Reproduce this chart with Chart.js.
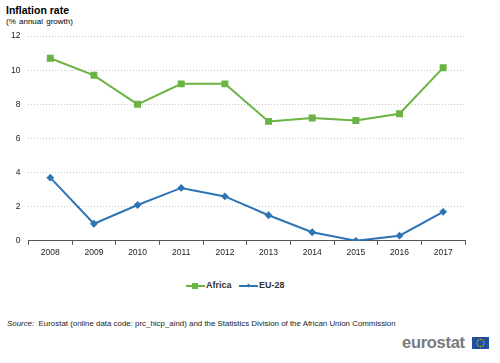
<!DOCTYPE html>
<html>
<head>
<meta charset="utf-8">
<script src="https://cdn.jsdelivr.net/npm/chart.js@4/dist/chart.umd.min.js"></script>
<style>
  body { margin: 0; background: #fff; font-family: "Liberation Sans", Arial, sans-serif; }
  #wrap { position: relative; width: 500px; height: 363px; overflow: hidden; }
  #title { position: absolute; left: 6px; top: 4px; font-size: 10.5px; font-weight: bold; color: #000; }
  #subtitle { position: absolute; left: 6px; top: 17px; font-size: 8px; color: #000; word-spacing: 1px; }
  #chartBox { position: absolute; left: 0; top: 23px; width: 500px; height: 238px; }
  #legend { position: absolute; left: 186px; top: 280px; white-space: nowrap; font-size: 9px; font-weight: bold; color: #333; }
  .item { display: inline-block; margin-right: 5px; }
  .sw { display: inline-block; position: relative; width: 19px; height: 8px; vertical-align: middle; margin-right: 1px; }
  .sw .ln { position: absolute; left: 0; right: 0; top: 3px; height: 2px; }
  .sw .mk { position: absolute; }
  #source { position: absolute; left: 7px; top: 319px; font-size: 7.9px; color: #222; }
  #logoTxt { position: absolute; left: 402px; top: 333px; font-size: 16.5px; font-weight: bold; color: #7a7a7a; letter-spacing: -0.3px; }
  #flag { position: absolute; left: 472px; top: 337px; }
</style>
</head>
<body>
<div id="wrap">
  <div id="title">Inflation rate</div>
  <div id="subtitle">(% annual growth)</div>
  <div id="chartBox"><canvas id="inflationChart"></canvas></div>
  <div id="legend">
    <span class="item"><span class="sw"><span class="ln" style="background:#6ab344"></span><span class="mk" style="left:6px;top:1px;width:6px;height:6px;background:#6ab344"></span></span>Africa</span>
    <span class="item"><span class="sw"><span class="ln" style="background:#2f74b5"></span><span class="mk" style="left:8px;top:2px;width:3px;height:3px;background:#2f74b5;transform:rotate(45deg)"></span></span>EU-28</span>
  </div>
  <div id="source"><i>Source:</i>&nbsp; Eurostat (online data code: prc_hicp_aind) and the Statistics Division of the African Union Commission</div>
  <div id="logoTxt">eurostat</div>
  <canvas id="flag" width="17" height="12"></canvas>
</div>
<script>
const years = ['2008', '2009', '2010', '2011', '2012', '2013', '2014', '2015', '2016', '2017'];
const africa = [10.7, 9.7, 8.0, 9.2, 9.2, 7.0, 7.2, 7.05, 7.45, 10.15];
const eu28 = [3.7, 1.0, 2.1, 3.1, 2.6, 1.5, 0.5, 0.0, 0.3, 1.7];
const yTicks = [0, 2, 4, 6, 8, 10, 12];

// small EU flag next to the logo text
const f = document.getElementById('flag').getContext('2d');
f.fillStyle = '#1f4fa0';
f.fillRect(0, 0, 17, 12);
f.fillStyle = '#f5d000';
for (let i = 0; i < 12; i++) {
  const a = i / 12 * Math.PI * 2;
  f.fillRect(8.5 + Math.cos(a) * 3.6 - 0.5, 6 + Math.sin(a) * 3.6 - 0.5, 1, 1);
}

const ctx = document.getElementById('inflationChart').getContext('2d');
new Chart(ctx, {
  type: 'line',
  data: {
    labels: years,
    datasets: [
      {
        label: 'Africa',
        data: africa,
        borderColor: '#6ab344',
        backgroundColor: '#6ab344',
        borderWidth: 2,
        pointStyle: 'rect',
        pointRadius: 3.5,
        pointHoverRadius: 3.5,
        tension: 0
      },
      {
        label: 'EU-28',
        data: eu28,
        borderColor: '#2f74b5',
        backgroundColor: '#2f74b5',
        borderWidth: 2,
        pointStyle: 'rectRot',
        pointRadius: 2.5,
        pointHoverRadius: 2.5,
        tension: 0
      }
    ]
  },
  options: {
    responsive: true,
    maintainAspectRatio: false,
    animation: false,
    layout: { padding: { left: 3, right: 35, top: 2, bottom: 0 } },
    plugins: { legend: { display: false }, tooltip: { enabled: false } },
    scales: {
      x: {
        offset: true,
        grid: {
          offset: true,
          drawOnChartArea: false,
          drawTicks: true,
          tickLength: 4,
          color: '#555'
        },
        border: { color: '#555', width: 1 },
        ticks: { color: '#222', font: { size: 8.5, family: 'Liberation Sans' }, padding: 3, maxRotation: 0 }
      },
      y: {
        min: 0,
        max: 12,
        afterBuildTicks: axis => { axis.ticks = yTicks.map(v => ({ value: v })); },
        grid: { color: '#c8c8c8', lineWidth: 1, drawTicks: false },
        border: { display: false, dash: [1, 2] },
        ticks: { color: '#222', font: { size: 8.5, family: 'Liberation Sans' }, padding: 8 }
      }
    }
  }
});
</script>
</body>
</html>
